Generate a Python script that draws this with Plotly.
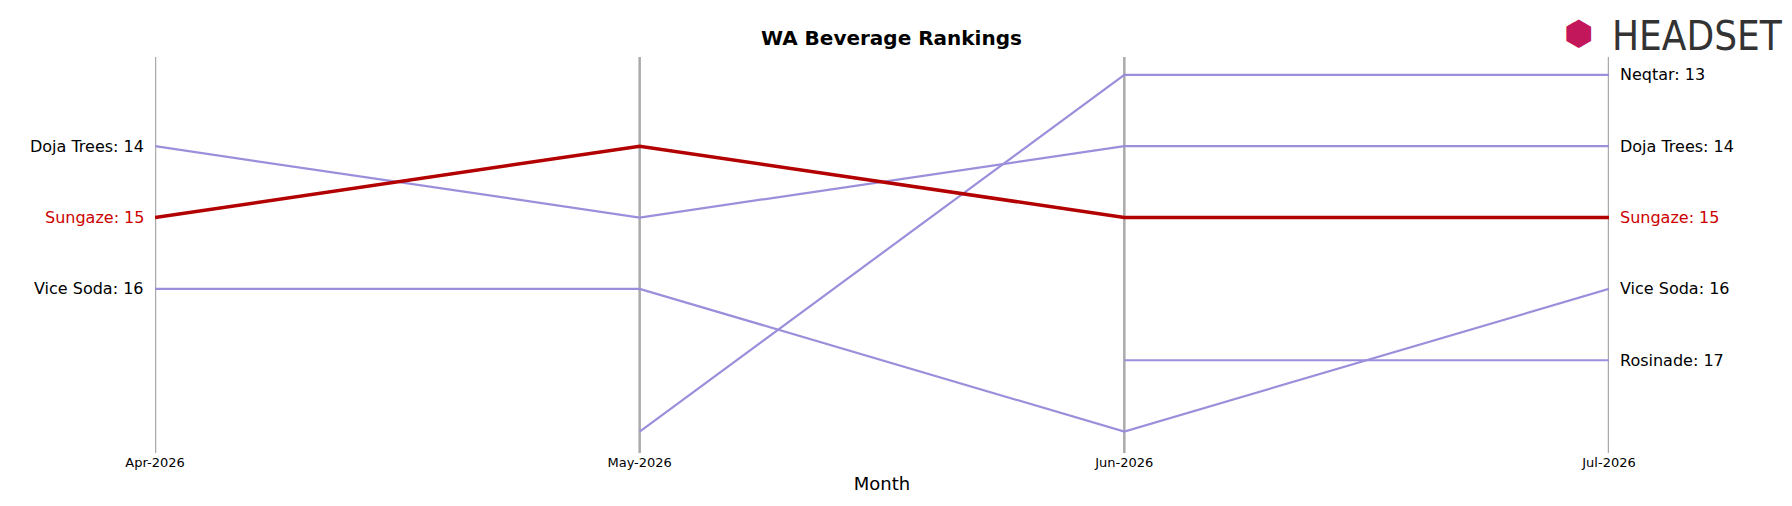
import plotly.graph_objects as go

months = ["Apr-2026", "May-2026", "Jun-2026", "Jul-2026"]
brands = ["Neqtar", "Doja Trees", "Vice Soda", "Rosinade", "Sungaze"]
ranks = {
    "Neqtar": [None, 18, 13, 13],
    "Doja Trees": [14, 15, 14, 14],
    "Vice Soda": [16, 16, 18, 16],
    "Rosinade": [None, None, 17, 17],
    "Sungaze": [15, 14, 15, 15],
}
highlight = "Sungaze"

fig = go.Figure()
xs = list(range(len(months)))
for b in brands:
    if b == highlight:
        continue
    fig.add_trace(go.Scatter(x=xs, y=ranks[b], mode="lines", line=dict(color="#9b8fdc", width=2.2), showlegend=False))
fig.add_trace(go.Scatter(x=xs, y=ranks[highlight], mode="lines", line=dict(color="#b30000", width=3.5), showlegend=False))

for i in xs:
    fig.add_shape(type="line", x0=i, x1=i, y0=0, y1=1, xref="x", yref="paper", line=dict(color="#aaaaaa", width=2.5), layer="below")

for b in brands:
    col = "#cc0000" if b == highlight else "black"
    r = ranks[b]
    if r[0] is not None:
        fig.add_annotation(x=0, y=r[0], text=f"{b}: {r[0]}", xanchor="right", xshift=-9, showarrow=False, font=dict(size=16, color=col))
    if r[-1] is not None:
        fig.add_annotation(x=3, y=r[-1], text=f"{b}: {r[-1]}", xanchor="left", xshift=9, showarrow=False, font=dict(size=16, color=col))

fig.add_annotation(x=1.121, y=1.115, xref="paper", yref="paper", yanchor="top", xanchor="right", text="HEADSET", showarrow=False, font=dict(size=40, color="#333333", family="Liberation Sans Narrow, DejaVu Sans Condensed"))
fig.add_annotation(x=0.968, y=1.115, xref="paper", yref="paper", yanchor="top", xanchor="left", text="⬢", showarrow=False, font=dict(size=34, color="#c2185b"))

fig.update_layout(
    width=1792, height=506, plot_bgcolor="white", paper_bgcolor="white",
    margin=dict(l=147, r=191, t=49, b=61),
    title=dict(text="<b>WA Beverage Rankings</b>", x=0.493, y=0.955, xanchor="center", font=dict(size=20, color="black", family="DejaVu Sans")),
    font=dict(family="DejaVu Sans", color="black"),
    xaxis=dict(range=[0, 3], tickvals=xs, ticktext=months, showgrid=False, zeroline=False, showline=False,
               tickfont=dict(size=13, color="black"), title=dict(text="Month", font=dict(size=18, color="black"), standoff=8), ticks=""),
    yaxis=dict(range=[18.3, 12.75], showticklabels=False, showgrid=False, zeroline=False, showline=False),
)
fig.write_html("out.html")
